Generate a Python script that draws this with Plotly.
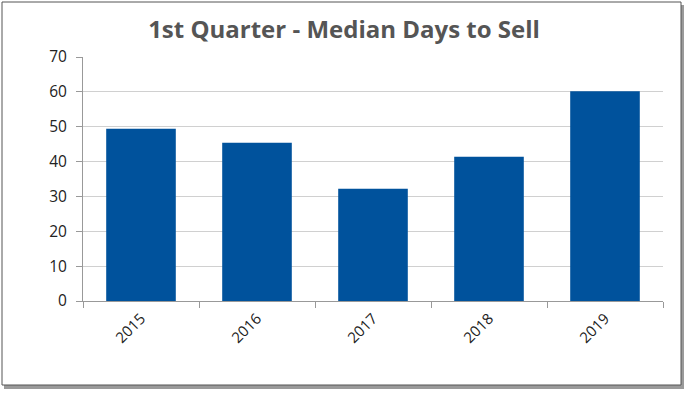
import plotly.graph_objects as go

years = ["2015", "2016", "2017", "2018", "2019"]
median_days = [49.4, 45.4, 32.2, 41.4, 60.2]
y_ticks = [0, 10, 20, 30, 40, 50, 60, 70]

W, H = 688, 394
L, R, T, B = 83, 25, 57, 93
pw, ph = W - L - R, H - T - B

def px(x):
    return (x - L) / pw

def py(y):
    return (H - B - y) / ph

fig = go.Figure(go.Bar(x=years, y=median_days, marker_color="#00529C",
                       marker_line_width=0, width=0.6))

fig.update_layout(
    width=W, height=H,
    margin=dict(l=L, r=R, t=T, b=B),
    paper_bgcolor="white", plot_bgcolor="white",
    title=dict(text="<b>1st Quarter - Median Days to Sell</b>", x=0.5, xref="container",
               xanchor="center", y=1 - 30 / H, yanchor="middle",
               font=dict(family="Open Sans", size=24, color="#555555")),
    font=dict(family="Open Sans", size=15, color="#222222"),
    showlegend=False,
    bargap=0.4,
    shapes=[
        dict(type="rect", xref="paper", yref="paper", layer="below",
             x0=px(4), x1=px(684), y0=py(5), y1=py(389),
             fillcolor="#9a9a9a", line=dict(width=0)),
        dict(type="rect", xref="paper", yref="paper", layer="below",
             x0=px(2), x1=px(681), y0=py(2), y1=py(385),
             fillcolor="white", line=dict(color="#555555", width=1)),
    ],
)
fig.update_xaxes(showline=True, linecolor="#999999", linewidth=1,
                 ticks="outside", tickson="boundaries", ticklen=6, tickcolor="#999999",
                 tickangle=-45, showgrid=False, ticklabelstandoff=2,
                 tickfont=dict(family="Open Sans", size=15, color="#222222"))
fig.update_yaxes(range=[0, 70], tickvals=y_ticks, showline=True, linecolor="#999999",
                 linewidth=1, ticks="outside", ticklen=6, tickcolor="#999999",
                 showgrid=True, gridcolor="#d0d0d0", gridwidth=1, zeroline=False,
                 ticklabelstandoff=6,
                 tickfont=dict(family="Open Sans", size=15.5, color="#222222"))

fig.write_html("out.html", config={"displayModeBar": False},
               post_script="document.body.style.margin='0';document.body.style.overflow='hidden';")
